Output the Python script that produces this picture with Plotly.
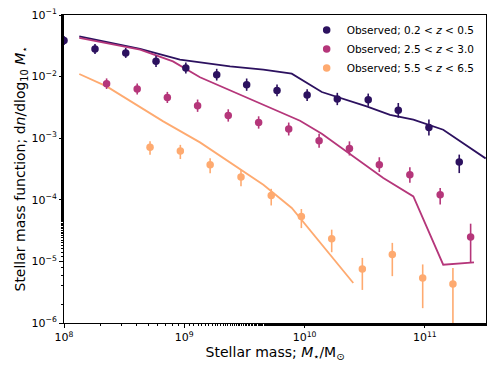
"""
Stellar mass function at three redshifts: observed points vs model lines
"""
import numpy as np
import plotly.graph_objects as go

COLORS = {'low': '#2c115f', 'mid': '#b5367a', 'high': '#feaa70'}

# observed points: 0.2 < z < 0.5
obs_low_mass = [1.0e8, 1.81e8, 3.26e8, 5.82e8, 1.03e9, 1.86e9, 3.30e9, 5.90e9,
                1.05e10, 1.87e10, 3.38e10, 6.01e10, 1.08e11, 1.93e11]
obs_low_phi = [0.0387, 0.0281, 0.0242, 0.01767, 0.0138, 0.01075, 0.00740, 0.00597,
               0.00502, 0.00433, 0.00421, 0.00283, 0.001496, 0.000411]
obs_low_up = [0.073, 0.08, 0.08, 0.09, 0.09, 0.095, 0.1, 0.095, 0.095, 0.1, 0.1, 0.12, 0.13, 0.12]
obs_low_dn = [0.073, 0.08, 0.08, 0.09, 0.09, 0.095, 0.1, 0.095, 0.095, 0.1, 0.1, 0.12, 0.13, 0.18]

# observed points: 2.5 < z < 3.0
obs_mid_mass = [2.26e8, 4.06e8, 7.23e8, 1.29e9, 2.32e9, 4.15e9, 7.38e9, 1.32e10,
                2.36e10, 4.18e10, 7.50e10, 1.34e11, 2.40e11]
obs_mid_phi = [7.67e-3, 6.30e-3, 4.59e-3, 3.37e-3, 2.34e-3, 1.80e-3, 1.41e-3, 9.10e-4,
               6.82e-4, 3.72e-4, 2.55e-4, 1.21e-4, 2.49e-5]
obs_mid_up = [0.086, 0.09, 0.09, 0.1, 0.1, 0.1, 0.105, 0.115, 0.115, 0.12, 0.12, 0.11, 0.216]
obs_mid_dn = [0.086, 0.09, 0.09, 0.1, 0.1, 0.1, 0.105, 0.115, 0.115, 0.12, 0.13, 0.16, 0.41]

# observed points: 5.5 < z < 6.5
obs_high_mass = [5.19e8, 9.27e8, 1.64e9, 2.96e9, 5.28e9, 9.40e9, 1.68e10, 3.02e10,
                 5.36e10, 9.59e10, 1.71e11]
obs_high_phi = [7.10e-4, 6.19e-4, 3.72e-4, 2.34e-4, 1.17e-4, 5.38e-5, 2.34e-5, 7.53e-6,
                1.29e-5, 5.38e-6, 4.30e-6]
obs_high_up = [0.1, 0.1, 0.105, 0.12, 0.11, 0.12, 0.146, 0.18, 0.19, 0.22, 0.26]
obs_high_dn = [0.12, 0.13, 0.14, 0.15, 0.16, 0.19, 0.22, 0.34, 0.35, 0.49, 1.5]

# model curves
mod_low_mass = [1.34e8, 4.29e8, 9.2e8, 2.40e9, 4.54e9, 7.82e9, 1.39e10, 3.28e10,
                5.13e10, 8.02e10, 1.42e11, 3.2e11]
mod_low_phi = [0.0450, 0.0281, 0.0188, 0.01466, 0.01294, 0.01114, 0.00562, 0.00328,
               0.00240, 0.00200, 0.001374, 0.000470]

mod_mid_mass = [1.34e8, 4.29e8, 8.05e8, 1.35e9, 9.16e9, 1.39e10, 4.51e10, 8.02e10,
                1.42e11, 2.56e11]
mod_mid_phi = [0.0424, 0.0274, 0.01766, 0.00977, 0.00192, 0.00118, 2.26e-4, 1.135e-4,
               8.83e-6, 9.64e-6]

mod_high_mass = [1.34e8, 2.26e8, 6.68e8, 1.35e9, 4.54e9, 7.82e9, 2.54e10]
mod_high_phi = [0.01102, 0.00693, 0.001875, 8.55e-4, 1.76e-4, 7.36e-5, 4.46e-6]

x_ticks = [1e8, 1e9, 1e10, 1e11]
x_ticktext = ['10<sup>8</sup>', '10<sup>9</sup>', '10<sup>10</sup>', '10<sup>11</sup>']
y_ticks = [1e-6, 1e-5, 1e-4, 1e-3, 1e-2, 1e-1]
y_ticktext = ['10<sup>−6</sup>', '10<sup>−5</sup>', '10<sup>−4</sup>',
              '10<sup>−3</sup>', '10<sup>−2</sup>', '10<sup>−1</sup>']


def asym_errors(phi, up_dex, dn_dex):
    """Turn errors in dex into linear plus/minus arrays"""
    phi = np.array(phi)
    plus = phi * (10 ** np.array(up_dex) - 1)
    minus = phi * (1 - 10 ** (-np.array(dn_dex)))
    return plus, minus


fig = go.Figure()

for mass, phi, col in [(mod_low_mass, mod_low_phi, COLORS['low']),
                       (mod_mid_mass, mod_mid_phi, COLORS['mid']),
                       (mod_high_mass, mod_high_phi, COLORS['high'])]:
    fig.add_trace(go.Scatter(
        x=mass, y=phi, mode='lines',
        line=dict(color=col, width=1.8),
        showlegend=False, hoverinfo='skip'
    ))

series = [
    (obs_low_mass, obs_low_phi, obs_low_up, obs_low_dn, COLORS['low'], '0.2', '0.5'),
    (obs_mid_mass, obs_mid_phi, obs_mid_up, obs_mid_dn, COLORS['mid'], '2.5', '3.0'),
    (obs_high_mass, obs_high_phi, obs_high_up, obs_high_dn, COLORS['high'], '5.5', '6.5'),
]
for mass, phi, up, dn, col, zlo, zhi in series:
    plus, minus = asym_errors(phi, up, dn)
    fig.add_trace(go.Scatter(
        x=mass, y=phi, mode='markers',
        name=f'Observed; {zlo} &lt; <i>z</i> &lt; {zhi}',
        marker=dict(color=col, size=7.5),
        error_y=dict(type='data', symmetric=False, array=plus, arrayminus=minus,
                     color=col, thickness=1.6, width=0),
        cliponaxis=True
    ))

axis_style = dict(
    type='log', showgrid=False, zeroline=False, automargin=False,
    showline=True, linecolor='black', linewidth=1, mirror=True,
    ticks='outside', ticklen=4, tickwidth=1, tickcolor='black',
    minor=dict(ticks='outside', ticklen=2, tickwidth=0.8, tickcolor='black', showgrid=False),
    tickfont=dict(size=11, color='black')
)

fig.update_layout(
    width=498, height=374,
    margin=dict(l=64, r=12, t=15, b=51),
    plot_bgcolor='white', paper_bgcolor='white',
    font=dict(family='DejaVu Sans', color='black'),
    xaxis=dict(axis_style, range=[8, 11.508], tickvals=x_ticks, ticktext=x_ticktext,
               title=dict(text='Stellar mass; <i>M</i><sub>⋆</sub>/M<sub>⊙</sub>',
                          font=dict(size=14), standoff=2)),
    yaxis=dict(axis_style, range=[-6, -1], tickvals=y_ticks, ticktext=y_ticktext,
               title=dict(text='Stellar mass function; d<i>n</i>/dlog<sub>10</sub> <i>M</i><sub>⋆</sub>',
                          font=dict(size=14), standoff=2)),
    legend=dict(x=0.985, y=0.998, xanchor='right', yanchor='top',
                bgcolor='rgba(0,0,0,0)', font=dict(size=10.5),
                tracegroupgap=0, itemwidth=30),
)

# the page body has a default 8px margin; drop it so the figure sits at the corner
fig.write_html("out.html", config={'displayModeBar': False},
               post_script="document.body.style.margin='0px';")
